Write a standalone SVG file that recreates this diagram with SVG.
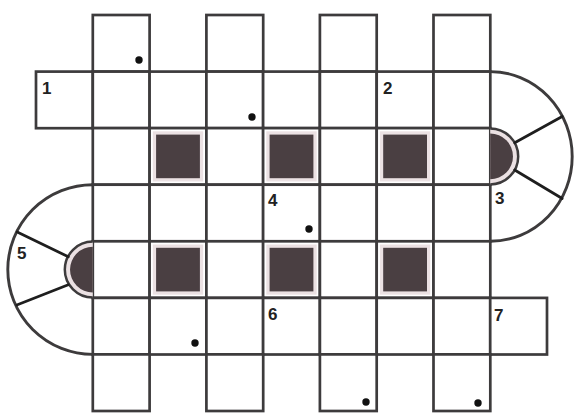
<svg xmlns="http://www.w3.org/2000/svg" width="574" height="413" viewBox="0 0 574 413">
<style>
.c{fill:#fff;stroke:#3d3b3c;stroke-width:2.7}
.rim{fill:#ebe1e3}
.blk{fill:#4a3f42}
.arc{fill:none;stroke:#3d3b3c;stroke-width:2.9}
.sp{stroke:#1e1e1e;stroke-width:2.7;stroke-linecap:round}
.semi{fill:#ebe1e3;stroke:#3d3b3c;stroke-width:2.5}
.n{font-family:"Liberation Sans",Arial,sans-serif;font-size:17px;font-weight:bold;fill:#222}
.d{fill:#111}
</style>
<rect width="574" height="413" fill="#fff"/>
<g id="grid">
<rect class="c" x="92.8" y="15" width="56.8" height="56.6"/>
<rect class="c" x="206.4" y="15" width="56.8" height="56.6"/>
<rect class="c" x="319.9" y="15" width="56.8" height="56.6"/>
<rect class="c" x="433.5" y="15" width="56.8" height="56.6"/>
<rect class="c" x="36" y="71.6" width="56.8" height="56.6"/>
<rect class="c" x="92.8" y="71.6" width="56.8" height="56.6"/>
<rect class="c" x="149.6" y="71.6" width="56.8" height="56.6"/>
<rect class="c" x="206.4" y="71.6" width="56.8" height="56.6"/>
<rect class="c" x="263.1" y="71.6" width="56.8" height="56.6"/>
<rect class="c" x="319.9" y="71.6" width="56.8" height="56.6"/>
<rect class="c" x="376.7" y="71.6" width="56.8" height="56.6"/>
<rect class="c" x="433.5" y="71.6" width="56.8" height="56.6"/>
<rect class="c" x="92.8" y="128.1" width="56.8" height="56.6"/>
<rect class="c" x="149.6" y="128.1" width="56.8" height="56.6"/>
<rect class="c" x="206.4" y="128.1" width="56.8" height="56.6"/>
<rect class="c" x="263.1" y="128.1" width="56.8" height="56.6"/>
<rect class="c" x="319.9" y="128.1" width="56.8" height="56.6"/>
<rect class="c" x="376.7" y="128.1" width="56.8" height="56.6"/>
<rect class="c" x="433.5" y="128.1" width="56.8" height="56.6"/>
<rect class="c" x="92.8" y="184.7" width="56.8" height="56.6"/>
<rect class="c" x="149.6" y="184.7" width="56.8" height="56.6"/>
<rect class="c" x="206.4" y="184.7" width="56.8" height="56.6"/>
<rect class="c" x="263.1" y="184.7" width="56.8" height="56.6"/>
<rect class="c" x="319.9" y="184.7" width="56.8" height="56.6"/>
<rect class="c" x="376.7" y="184.7" width="56.8" height="56.6"/>
<rect class="c" x="433.5" y="184.7" width="56.8" height="56.6"/>
<rect class="c" x="92.8" y="241.3" width="56.8" height="56.6"/>
<rect class="c" x="149.6" y="241.3" width="56.8" height="56.6"/>
<rect class="c" x="206.4" y="241.3" width="56.8" height="56.6"/>
<rect class="c" x="263.1" y="241.3" width="56.8" height="56.6"/>
<rect class="c" x="319.9" y="241.3" width="56.8" height="56.6"/>
<rect class="c" x="376.7" y="241.3" width="56.8" height="56.6"/>
<rect class="c" x="433.5" y="241.3" width="56.8" height="56.6"/>
<rect class="c" x="92.8" y="297.9" width="56.8" height="56.6"/>
<rect class="c" x="149.6" y="297.9" width="56.8" height="56.6"/>
<rect class="c" x="206.4" y="297.9" width="56.8" height="56.6"/>
<rect class="c" x="263.1" y="297.9" width="56.8" height="56.6"/>
<rect class="c" x="319.9" y="297.9" width="56.8" height="56.6"/>
<rect class="c" x="376.7" y="297.9" width="56.8" height="56.6"/>
<rect class="c" x="433.5" y="297.9" width="56.8" height="56.6"/>
<rect class="c" x="490.2" y="297.9" width="56.8" height="56.6"/>
<rect class="c" x="92.8" y="354.4" width="56.8" height="56.6"/>
<rect class="c" x="206.4" y="354.4" width="56.8" height="56.6"/>
<rect class="c" x="319.9" y="354.4" width="56.8" height="56.6"/>
<rect class="c" x="433.5" y="354.4" width="56.8" height="56.6"/>
</g>
<g id="blocks">
<rect class="rim" x="152.8" y="131.3" width="50.4" height="50.2"/><rect class="blk" x="156.1" y="134.6" width="43.8" height="43.6"/>
<rect class="rim" x="266.3" y="131.3" width="50.4" height="50.2"/><rect class="blk" x="269.6" y="134.6" width="43.8" height="43.6"/>
<rect class="rim" x="379.9" y="131.3" width="50.4" height="50.2"/><rect class="blk" x="383.2" y="134.6" width="43.8" height="43.6"/>
<rect class="rim" x="152.8" y="244.5" width="50.4" height="50.2"/><rect class="blk" x="156.1" y="247.8" width="43.8" height="43.6"/>
<rect class="rim" x="266.3" y="244.5" width="50.4" height="50.2"/><rect class="blk" x="269.6" y="247.8" width="43.8" height="43.6"/>
<rect class="rim" x="379.9" y="244.5" width="50.4" height="50.2"/><rect class="blk" x="383.2" y="247.8" width="43.8" height="43.6"/>
</g>
<g id="right-round">
<path class="arc" d="M490.2,71.6 A82,84.8 0 0 1 490.2,241.3"/>
<path class="semi" d="M490.2,128.4 A28,28 0 0 1 490.2,184.4"/>
<path class="blk" d="M490.2,133.6 A22.8,22.8 0 0 1 490.2,179.2 Z"/>
<line class="sp" x1="514.7" y1="142.8" x2="562.2" y2="116.5"/>
<line class="sp" x1="514.7" y1="170" x2="562.2" y2="198.5"/>
</g>
<g id="left-round">
<path class="arc" d="M92.8,184.7 A85,84.85 0 0 0 92.8,354.4"/>
<path class="semi" d="M92.8,241.6 A28,28 0 0 0 92.8,297.6"/>
<path class="blk" d="M92.8,246.8 A22.8,22.8 0 0 0 92.8,292.4 Z"/>
<line class="sp" x1="68.3" y1="256.8" x2="17.2" y2="232"/>
<line class="sp" x1="68.3" y1="284.8" x2="16.8" y2="305"/>
</g>
<g id="labels">
<text class="n" x="42" y="93.5">1</text>
<text class="n" x="383" y="93.5">2</text>
<text class="n" x="495" y="203.5">3</text>
<text class="n" x="268" y="206">4</text>
<text class="n" x="17" y="258.5">5</text>
<text class="n" x="268" y="319.5">6</text>
<text class="n" x="494" y="320.5">7</text>
</g>
<g id="dots">
<circle class="d" cx="139" cy="60" r="3.7"/>
<circle class="d" cx="252" cy="117" r="3.7"/>
<circle class="d" cx="309" cy="229" r="3.7"/>
<circle class="d" cx="195" cy="343" r="3.7"/>
<circle class="d" cx="366" cy="402" r="3.7"/>
<circle class="d" cx="478" cy="403" r="3.7"/>
</g>
</svg>
